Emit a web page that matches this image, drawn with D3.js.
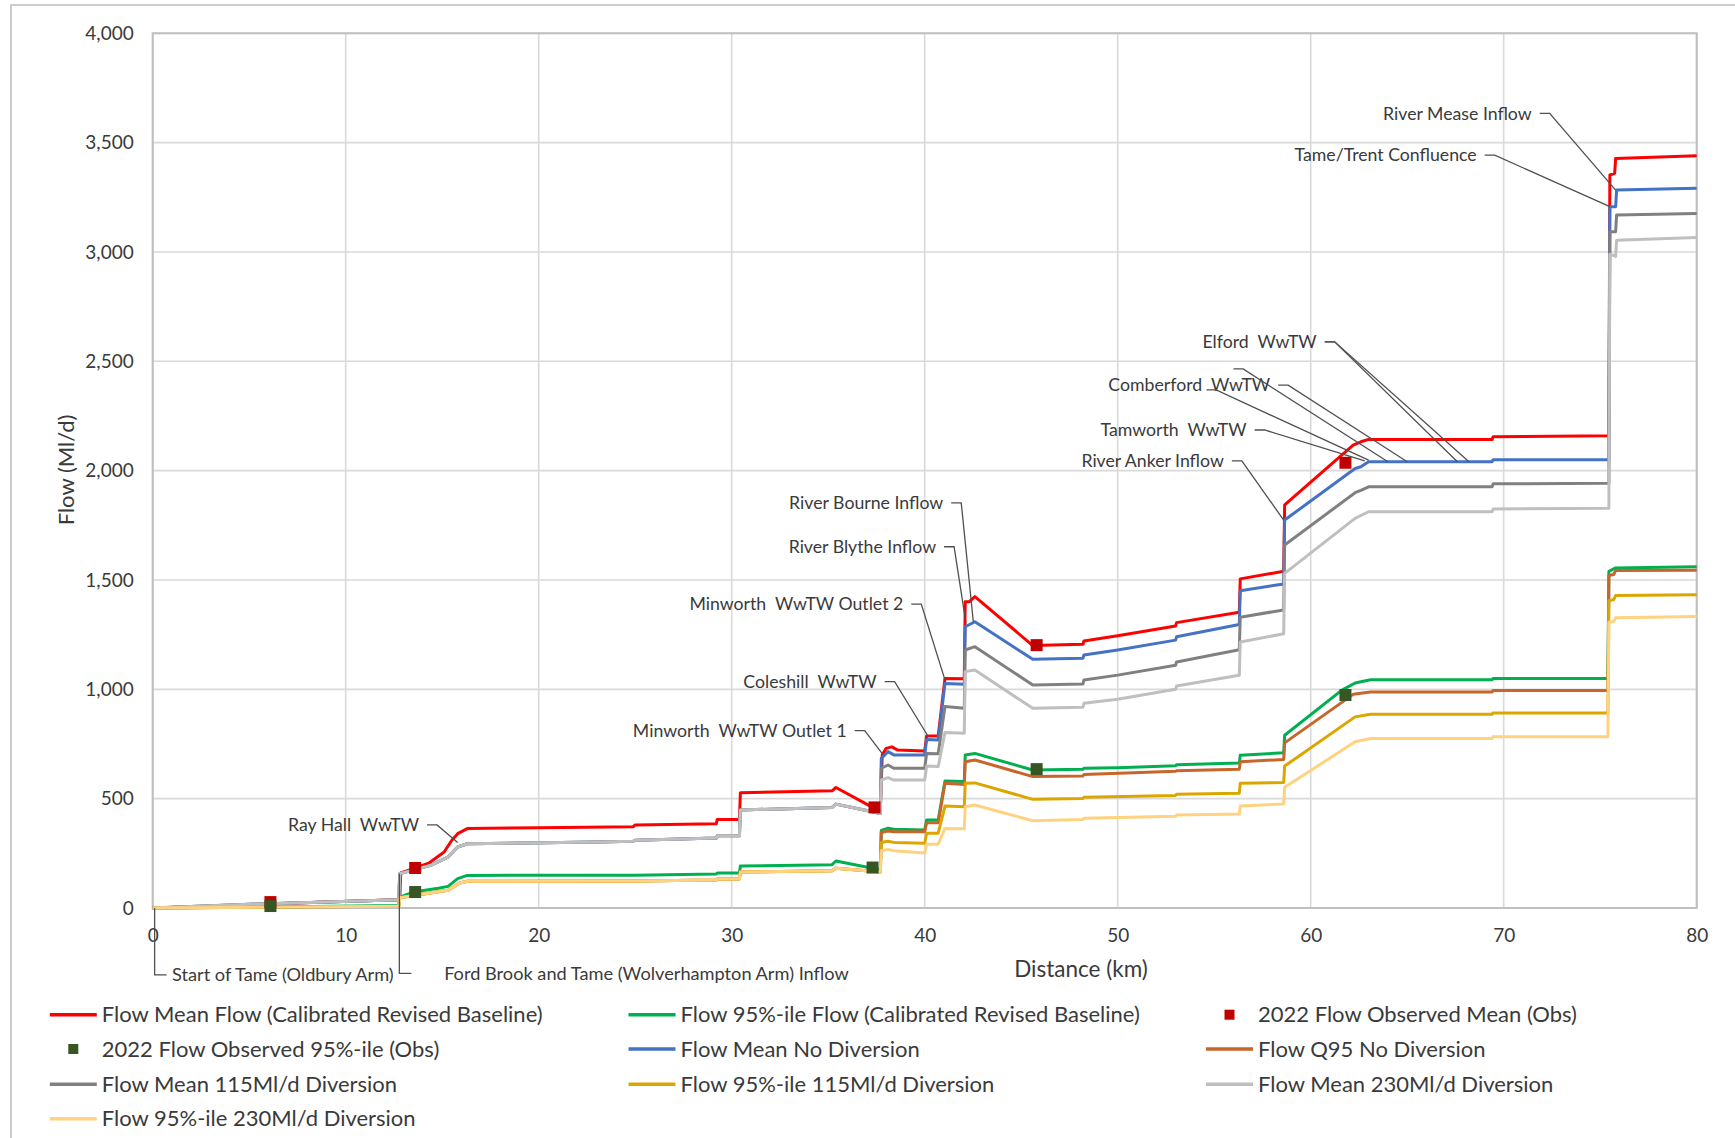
<!DOCTYPE html>
<html>
<head>
<meta charset="utf-8">
<script src="https://cdn.jsdelivr.net/npm/d3@7"></script>
<style>
  body { margin: 0; background: #fff; }
  text { font-family: Lato, "Liberation Sans", sans-serif; fill: #3a3a3a; white-space: pre; }
</style>
</head>
<body>
<svg id="chart"></svg>
<script>
// ticks
var xTicks = [0, 10, 20, 30, 40, 50, 60, 70, 80];
var yTicks = [0, 500, 1000, 1500, 2000, 2500, 3000, 3500, 4000];

// river profile, [km, Ml/d]
var meanUpstream = [[0,0],[3,10],[6,20],[9,28],[12.75,38],[12.8,157],[14.4,195],[15.3,233],[15.8,279],[16.3,294],[23,302],[24.9,305],[25,310],[29.2,320],[29.25,330],[30.4,330],[30.45,448],[35.2,460],[35.4,475],[37.3,440],[37.7,432]];
var q95Upstream = [[0,0],[6,4],[12.75,8],[12.8,47],[14.2,66],[15.3,81],[15.9,114],[16.3,122],[25,124],[29.2,128],[29.25,133],[30.4,133],[30.45,165],[35.2,170],[35.4,182],[37.3,168],[37.7,165]];

var meanBaseline = [[0,0],[3,8],[6,18],[9,27],[12.7,38],[12.8,40],[12.85,160],[13.5,180],[14.3,205],[15.1,256],[15.5,310],[15.8,340],[16.3,363],[20,367],[24.9,372],[25,380],[29.2,385],[29.25,405],[30.4,405],[30.45,527],[35.2,536],[35.4,551],[37.3,460],[37.7,448],[37.8,700],[38.0,730],[38.3,737],[38.6,722],[40.0,718],[40.1,786],[40.7,786],[41.05,1050],[42.05,1048],[42.1,1400],[42.3,1400],[42.6,1424],[45.6,1200],[48.2,1206],[48.25,1221],[50,1245],[53,1290],[53.05,1305],[56.3,1352],[56.35,1505],[58.6,1540],[58.65,1843],[62.2,2117],[62.6,2132],[63.0,2143],[69.4,2143],[69.45,2155],[75.45,2160],[75.5,3352],[75.75,3360],[75.8,3428],[80,3440]];
var q95Baseline = [[0,0],[6,5],[12.75,12],[12.8,50],[13.5,73],[14.8,90],[15.3,99],[15.8,134],[16.3,149],[25,150],[29.2,155],[29.25,160],[30.4,160],[30.45,192],[35.2,198],[35.4,215],[37.3,182],[37.7,175],[37.75,355],[38.1,365],[38.4,360],[40.0,357],[40.1,402],[40.7,402],[41.05,581],[42.05,578],[42.1,700],[42.6,707],[45.6,631],[48.2,634],[48.25,639],[50,641],[53,650],[53.05,655],[56.3,663],[56.35,699],[58.6,710],[58.65,790],[61.6,995],[62.3,1029],[63.1,1044],[69.4,1044],[69.45,1049],[75.4,1049],[75.45,1540],[75.8,1555],[80,1561]];

var meanNoDiv = meanUpstream.concat([[37.75,684],[38.1,715],[38.4,700],[40.0,700],[40.1,771],[40.7,768],[41.05,1027],[42.05,1023],[42.1,1286],[42.6,1309],[45.6,1137],[48.2,1142],[48.25,1157],[50,1180],[53,1225],[53.05,1240],[56.3,1296],[56.35,1451],[58.6,1482],[58.65,1774],[62.3,2010],[62.6,2018],[63.0,2041],[69.4,2041],[69.45,2050],[75.45,2050],[75.5,3207],[75.8,3207],[75.85,3283],[80,3291]]);
var q95NoDiv = q95Upstream.concat([[37.75,345],[38.1,352],[38.4,349],[40.0,349],[40.1,390],[40.7,390],[41.05,570],[42.05,565],[42.1,669],[42.6,677],[45.6,601],[48.2,604],[48.25,610],[53,625],[53.05,628],[56.3,635],[56.35,669],[58.6,679],[58.65,755],[62.2,977],[63.1,988],[69.4,988],[69.45,995],[75.4,995],[75.45,1520],[75.7,1525],[75.8,1543],[80,1545]]);
var mean115 = meanUpstream.concat([[37.75,639],[38.1,654],[38.4,639],[40.0,639],[40.1,707],[40.7,705],[41.05,921],[42.05,913],[42.1,1180],[42.6,1195],[45.6,1020],[48.2,1024],[48.25,1043],[50,1065],[53,1110],[53.05,1125],[56.3,1181],[56.35,1330],[58.6,1363],[58.65,1660],[62.3,1899],[62.6,1910],[63.0,1926],[69.4,1926],[69.45,1940],[75.45,1942],[75.5,3093],[75.8,3093],[75.85,3169],[80,3176]]);
var q95115 = q95Upstream.concat([[37.75,300],[38.1,305],[38.4,300],[40.0,296],[40.1,342],[40.7,342],[41.05,466],[42.05,463],[42.1,570],[42.6,572],[45.6,497],[48.2,501],[48.25,506],[53,515],[53.05,520],[56.3,525],[56.35,570],[58.6,574],[58.65,649],[62.3,874],[63.1,886],[69.4,886],[69.45,892],[75.4,892],[75.45,1406],[75.7,1410],[75.8,1429],[80,1432]]);
var mean230 = meanUpstream.concat([[37.75,585],[38.1,596],[38.4,585],[40.0,585],[40.1,649],[40.7,647],[41.05,802],[42.05,799],[42.1,1081],[42.6,1088],[45.6,913],[48.2,918],[48.25,936],[50,955],[53,1000],[53.05,1015],[56.3,1064],[56.35,1216],[58.6,1254],[58.65,1530],[62.3,1782],[62.6,1795],[63.0,1812],[69.4,1812],[69.45,1825],[75.45,1828],[75.5,2990],[75.8,2980],[75.85,3054],[80,3066]]);
var q95230 = q95Upstream.concat([[37.75,262],[38.1,268],[38.4,262],[40.0,252],[40.1,292],[40.7,292],[41.05,364],[42.05,362],[42.1,463],[42.6,471],[45.6,399],[48.2,405],[48.25,410],[53,420],[53.05,425],[56.3,430],[56.35,466],[58.6,476],[58.65,552],[62.3,760],[63.1,775],[69.4,775],[69.45,783],[75.4,783],[75.45,1307],[75.7,1310],[75.8,1327],[80,1333]]);

var obsMean = [[6.1,27],[13.6,183],[37.4,460],[45.8,1202],[61.8,2036]];
var obsQ95 = [[6.1,9],[13.6,73],[37.3,185],[45.8,635],[61.8,974]];

var seriesNames = [
  "Flow Mean Flow (Calibrated Revised Baseline)",
  "Flow 95%-ile Flow (Calibrated Revised Baseline)",
  "2022 Flow Observed Mean (Obs)",
  "2022 Flow Observed 95%-ile (Obs)",
  "Flow Mean No Diversion",
  "Flow Q95 No Diversion",
  "Flow Mean 115Ml/d Diversion",
  "Flow 95%-ile 115Ml/d Diversion",
  "Flow Mean 230Ml/d Diversion",
  "Flow 95%-ile 230Ml/d Diversion"
];
var seriesData = [meanBaseline, q95Baseline, obsMean, obsQ95, meanNoDiv, q95NoDiv, mean115, q95115, mean230, q95230];
var seriesKind = ["line","line","marker","marker","line","line","line","line","line","line"];
var seriesColor = ["#ff0000","#00b050","#c00000","#375623","#4472c4","#c8652b","#808080","#dca500","#bfbfbf","#ffd27f"];

// labelled points: text end [km, flow], then where the leader points to
var notes = [
  {label: "River Mease Inflow", at: [71.45, 3634], to: [[75.8, 3283]]},
  {label: "Tame/Trent Confluence", at: [68.6, 3443], to: [[75.5, 3207]]},
  {label: "Elford  WwTW", at: [60.31, 2589], to: [[67.6, 2041], [68.2, 2041]]},
  {label: "Comberford  WwTW", at: [57.9, 2391], to: [[65.0, 2041]]},
  {label: "Tamworth  WwTW", at: [56.68, 2186], to: [[62.8, 2045]]},
  {label: "River Anker Inflow", at: [55.5, 2045], to: [[58.6, 1774]]},
  {label: "River Bourne Inflow", at: [40.96, 1853], to: [[42.52, 1309]]},
  {label: "River Blythe Inflow", at: [40.59, 1652], to: [[42.14, 1302]]},
  {label: "Minworth  WwTW Outlet 2", at: [38.89, 1390], to: [[41.05, 1043]]},
  {label: "Coleshill  WwTW", at: [37.51, 1035], to: [[40.19, 783]]},
  {label: "Minworth  WwTW Outlet 1", at: [35.96, 811], to: [[37.85, 700]]},
  {label: "Ray Hall  WwTW", at: [13.8, 380], to: [[15.8, 300]]}
];
// loose leader lines left over near Comberford
var strayLeaders = [
  [[56.0, 2465], [56.5, 2465], [64.0, 2041]],
  [[54.6, 2369], [55.1, 2369], [63.0, 2048]]
];
// notes under the axis: from point, drop to flow level, text start km
var axisNotes = [
  {label: "Start of Tame (Oldbury Arm)", from: [0.1, 0], drop: -306, textKm: 1.0},
  {label: "Ford Brook and Tame (Wolverhampton Arm) Inflow", from: [12.78, 157], drop: -299, textKm: 15.1}
];

var width = 1735, height = 1138;
var svg = d3.select("#chart").attr("width", width).attr("height", height);

var x = d3.scaleLinear().domain([0, 80]).range([152.7, 1696.7]);
var y = d3.scaleLinear().domain([0, 4000]).range([908, 33.3]);

// chart border
svg.append("rect").attr("x", 11).attr("y", 5).attr("width", width + 20).attr("height", height + 20)
  .attr("fill", "none").attr("stroke", "#bdbdbd").attr("stroke-width", 1.5);

// grid
var grid = svg.append("g");
grid.selectAll("line.gx").data(xTicks).enter().append("line")
  .attr("x1", d => x(d)).attr("x2", d => x(d)).attr("y1", y(0)).attr("y2", y(4000))
  .attr("stroke", "#d9d9d9").attr("stroke-width", 1.6);
grid.selectAll("line.gy").data(yTicks).enter().append("line")
  .attr("x1", x(0)).attr("x2", x(80)).attr("y1", d => y(d)).attr("y2", d => y(d))
  .attr("stroke", "#d9d9d9").attr("stroke-width", 1.6);

svg.append("rect").attr("x", x(0)).attr("y", y(4000)).attr("width", x(80) - x(0)).attr("height", y(0) - y(4000))
  .attr("fill", "none").attr("stroke", "#bfbfbf").attr("stroke-width", 2);

// axes
var yAxis = svg.append("g").attr("transform", "translate(" + x(0) + ",0)")
  .call(d3.axisLeft(y).tickValues(yTicks).tickFormat(d3.format(",")).tickSize(0).tickPadding(19));
var xAxis = svg.append("g").attr("transform", "translate(0," + y(0) + ")")
  .call(d3.axisBottom(x).tickValues(xTicks).tickSize(0).tickPadding(21));
[yAxis, xAxis].forEach(function (a) {
  a.select(".domain").remove();
  a.selectAll("text").style("font-size", "19px").attr("fill", "#3a3a3a");
});

svg.append("text").attr("transform", "translate(66,470) rotate(-90)")
  .attr("text-anchor", "middle").attr("dy", "0.35em").style("font-size", "22px").text("Flow (Ml/d)");
svg.append("text").attr("x", 1081).attr("y", 969)
  .attr("text-anchor", "middle").attr("dy", "0.35em").style("font-size", "22.5px").text("Distance (km)");

// lines
var line = d3.line().x(d => x(d[0])).y(d => y(d[1]));
seriesData.forEach(function (data, i) {
  if (seriesKind[i] !== "line") return;
  svg.append("path").datum(data)
    .attr("fill", "none").attr("stroke", seriesColor[i]).attr("stroke-width", 3)
    .attr("stroke-linejoin", "round")
    .attr("d", line);
});

// observed points
seriesData.forEach(function (data, i) {
  if (seriesKind[i] !== "marker") return;
  svg.selectAll(null).data(data).enter().append("rect")
    .attr("x", d => x(d[0]) - 6).attr("y", d => y(d[1]) - 6)
    .attr("width", 12).attr("height", 12).attr("fill", seriesColor[i]);
});

// annotations
var notesG = svg.append("g");
notes.forEach(function (n) {
  var tx = x(n.at[0]), ty = y(n.at[1]);
  notesG.append("text").attr("x", tx).attr("y", ty).attr("dy", "0.35em")
    .attr("text-anchor", "end").style("font-size", "17.7px").text(n.label);
  n.to.forEach(function (t) {
    notesG.append("polyline")
      .attr("points", [[tx + 8, ty], [tx + 18, ty], [x(t[0]), y(t[1])]].join(" "))
      .attr("fill", "none").attr("stroke", "#505050").attr("stroke-width", 1.3);
  });
});
strayLeaders.forEach(function (s) {
  notesG.append("polyline").attr("points", s.map(p => [x(p[0]), y(p[1])]).join(" "))
    .attr("fill", "none").attr("stroke", "#505050").attr("stroke-width", 1.3);
});
axisNotes.forEach(function (n) {
  var px = x(n.from[0]), py = y(n.from[1]), dy = y(n.drop);
  notesG.append("polyline")
    .attr("points", [[px, py], [px, dy], [px + 12, dy]].join(" "))
    .attr("fill", "none").attr("stroke", "#505050").attr("stroke-width", 1.3);
  notesG.append("text").attr("x", x(n.textKm)).attr("y", dy).attr("dy", "0.35em")
    .style("font-size", "18.2px").text(n.label);
});

// legend
var colX = [49.8, 628.5, 1206];
var rowY = [1014.7, 1049, 1084.3, 1118.7];
var legend = svg.append("g");
seriesNames.forEach(function (name, i) {
  var lx = colX[i % 3], ly = rowY[Math.floor(i / 3)];
  if (seriesKind[i] === "line") {
    legend.append("line").attr("x1", lx).attr("x2", lx + 47).attr("y1", ly).attr("y2", ly)
      .attr("stroke", seriesColor[i]).attr("stroke-width", 3.5);
  } else {
    legend.append("rect").attr("x", lx + 23.5 - 5).attr("y", ly - 5).attr("width", 10).attr("height", 10)
      .attr("fill", seriesColor[i]);
  }
  legend.append("text").attr("x", lx + 52).attr("y", ly).attr("dy", "0.35em")
    .style("font-size", "22px").text(name);
});
</script>
</body>
</html>
